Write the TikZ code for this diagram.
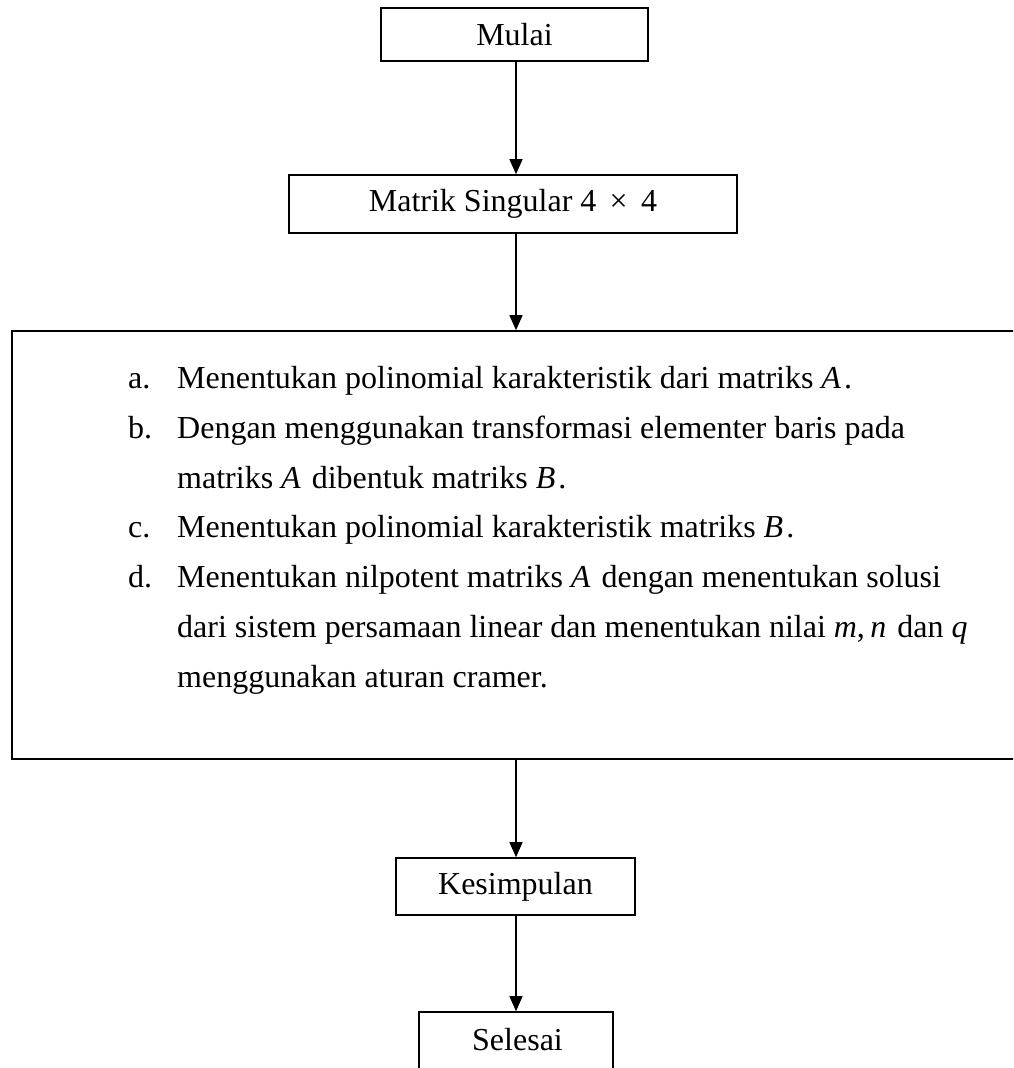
\documentclass[tikz,border=0pt]{standalone}
\usepackage{fontspec}
\setmainfont{Liberation Serif}
\usetikzlibrary{arrows.meta}
\newcommand{\mgap}{\kern3pt}
\begin{document}
\begin{tikzpicture}[x=1pt,y=-1pt,
  box/.style={draw,line width=1.6pt,inner sep=0pt,align=center,font=\fontsize{32}{56}\selectfont},
  arr/.style={line width=1.3pt,-{Triangle[length=15pt,width=13pt]}},
  txt/.style={anchor=base west,inner sep=0pt,font=\fontsize{32}{56}\selectfont}]
\useasboundingbox (0,0) rectangle (1013,1068);
\clip (0,0) rectangle (1013,1068);
\fill[white] (0,0) rectangle (1013,1068);
\coordinate (col) at (516,0);
\node[box,minimum width=267pt,minimum height=53pt] (mulai) at (514.5,34.5) {Mulai};
\node[box,minimum width=448pt,minimum height=58pt] (matrik) at (513,204) {Matrik Singular 4 \,×\, 4};
\node[box,minimum width=1030pt,minimum height=428pt] (proc) at (527,545) {};
\node[box,minimum width=239pt,minimum height=57pt] (kes) at (515.5,886.5) {Kesimpulan};
\node[box,minimum width=194pt,minimum height=90pt] (sel) at (516,1057) {};
\node[txt] (seltext) at (472,1050) {Selesai};
% list
\node[txt] (la) at (128,388) {a.};
\node[txt] (ta) at (177,388) {Menentukan polinomial karakteristik dari matriks \textit{A}\mgap.};
\node[txt] (lb) at (128,438) {b.};
\node[txt] (tb) at (177,438) {Dengan menggunakan transformasi elementer baris pada};
\node[txt] (tb2) at (177,488) {matriks \textit{A}\mgap{} dibentuk matriks \textit{B}\mgap.};
\node[txt] (lc) at (128,537.5) {c.};
\node[txt] (tc) at (177,537.5) {Menentukan polinomial karakteristik matriks \textit{B}\mgap.};
\node[txt] (ld) at (128,587.5) {d.};
\node[txt] (td) at (177,587.5) {Menentukan nilpotent matriks \textit{A}\mgap{} dengan menentukan solusi};
\node[txt] (td2) at (177,637) {dari sistem persamaan linear dan menentukan nilai \textit{m},\,\textit{n}\mgap{} dan \textit{q}};
\node[txt] (td3) at (177,687) {menggunakan aturan cramer.};
% arrows
\draw[arr] (mulai.south -| col) -- (matrik.north -| col);
\draw[arr] (matrik.south -| col) -- (proc.north -| col);
\draw[arr] (proc.south -| col) -- (kes.north -| col);
\draw[arr] (kes.south -| col) -- (sel.north -| col);
\end{tikzpicture}
\end{document}
